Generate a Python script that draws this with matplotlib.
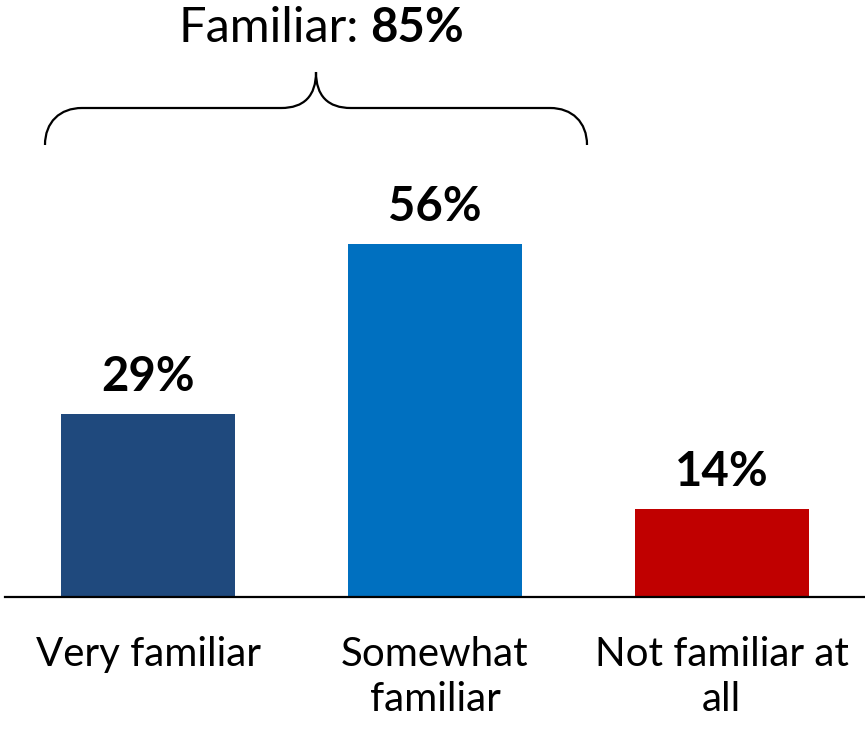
import matplotlib.pyplot as plt
from matplotlib.path import Path
from matplotlib.patches import PathPatch

plt.rcParams["font.family"] = ["Lato", "DejaVu Sans"]

categories = ["Very familiar", "Somewhat\nfamiliar", "Not familiar at\nall"]
values = [29, 56, 14]
colors = ["#1F497D", "#0070C0", "#C00000"]
familiar_total = 85

fig = plt.figure(figsize=(8.65, 7.3), dpi=100)
ax = fig.add_axes([5 / 865, 133 / 730, 860 / 865, 567 / 730])

xs = range(len(values))
ax.bar(xs, values, width=0.606, color=colors)
for x, v in zip(xs, values):
    ax.annotate(f"{v}%", (x, v), xytext=(0, 11), textcoords="offset points",
                ha="center", va="bottom", fontsize=34, fontweight="bold")

ax.set_xlim(-0.5, 2.5)
ax.set_ylim(0, 90)
ax.set_xticks(list(xs))
ax.set_xticklabels(categories, fontsize=29, linespacing=1.26)
ax.tick_params(axis="x", length=0, pad=28)
ax.set_yticks([])
for side in ["top", "left", "right"]:
    ax.spines[side].set_visible(False)
ax.spines["bottom"].set_linewidth(1.6)

# overlay in pixel units for the bracket and its heading
over = fig.add_axes([0, 0, 1, 1], facecolor="none")
over.set_xlim(0, 865)
over.set_ylim(730, 0)
over.axis("off")

verts = [
    (45, 145), (45, 122), (60, 108), (82, 108),
    (281, 108),
    (304, 108), (316, 96), (316, 72),
    (316, 96), (328, 108), (351, 108),
    (550, 108),
    (572, 108), (587, 122), (587, 145),
]
codes = [Path.MOVETO, Path.CURVE4, Path.CURVE4, Path.CURVE4,
         Path.LINETO,
         Path.CURVE4, Path.CURVE4, Path.CURVE4,
         Path.CURVE4, Path.CURVE4, Path.CURVE4,
         Path.LINETO,
         Path.CURVE4, Path.CURVE4, Path.CURVE4]
over.add_patch(PathPatch(Path(verts, codes), fill=False, lw=1.6, color="black"))

over.text(359, 42, "Familiar:", ha="right", va="baseline", fontsize=35)
over.text(370, 42, f"{familiar_total}%", ha="left", va="baseline",
          fontsize=34, fontweight="bold")

fig.savefig("out.png", dpi=100)
